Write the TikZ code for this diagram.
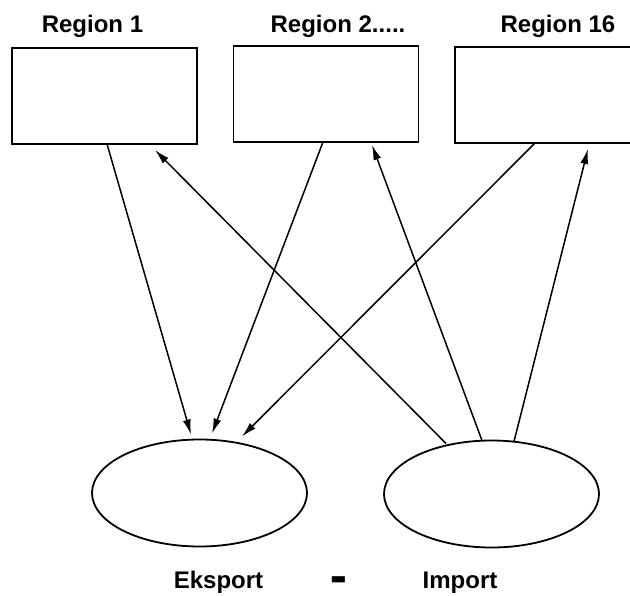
\documentclass[tikz,border=0pt]{standalone}
\usepackage{fontspec}
\setmainfont{Liberation Sans}
\usetikzlibrary{arrows.meta, positioning, shapes.geometric}
\tikzset{
  region/.style={draw, line width=1.8pt, minimum width=185pt, minimum height=96pt, inner sep=0pt, outer sep=0pt},
  pool/.style={draw, ellipse, line width=1.8pt, minimum width=215pt, minimum height=107pt, inner sep=0pt, outer sep=0pt},
  arrow/.style={-{Latex[length=15pt, width=8pt]}, line width=1.5pt},
  title/.style={font=\fontsize{24}{28}\selectfont\bfseries, anchor=base, inner sep=0pt}
}

\begin{document}
\begin{tikzpicture}[x=1pt, y=-1pt]
    \useasboundingbox (0,0) rectangle (630,596);

    % regions along the top, the last one runs off the edge
    \node[region] (reg1)  at (104.5,96)  {};
    \node[region] (reg2)  at (326,94)    {};
    \node[region] (reg16) at (547.5,95)  {};
    \node[title] (lab1)  at (92.5,33) {Region 1};
    \node[title] (lab2)  at (338,33)  {Region 2.....};
    \node[title] (lab16) at (558,33)  {Region 16};

    % export and import pools
    \node[pool] (eksport) at (199.5,493) {};
    \node[pool] (import)  at (491.5,494) {};
    \node[title] (labeks) at (218.5,588) {Eksport};
    \node[title] (minus)  at (339,596)   {\scalebox{1.1}[2.6]{–}};
    \node[title] (labimp) at (460,588)   {Import};

    % flows into the export pool
    \draw[arrow] ([xshift=2.5pt]reg1.south)  -- ([xshift=-8.5pt,yshift=5pt]eksport.north);
    \draw[arrow] ([xshift=-3pt]reg2.south)   -- ([xshift=12.5pt,yshift=6pt]eksport.north);
    \draw[arrow] ([xshift=-12.5pt]reg16.south) -- ([xshift=42.5pt,yshift=3pt]eksport.north);

    % flows out of the import pool
    \draw[arrow] ([xshift=-45.5pt,yshift=-3pt]import.north) -- ([xshift=50.5pt,yshift=-6pt]reg1.south);
    \draw[arrow] ([xshift=-9.5pt]import.north)  -- ([xshift=46pt,yshift=-3pt]reg2.south);
    \draw[arrow] ([xshift=22.5pt,yshift=-1pt]import.north) -- ([xshift=40.5pt,yshift=-6pt]reg16.south);
\end{tikzpicture}
\end{document}
